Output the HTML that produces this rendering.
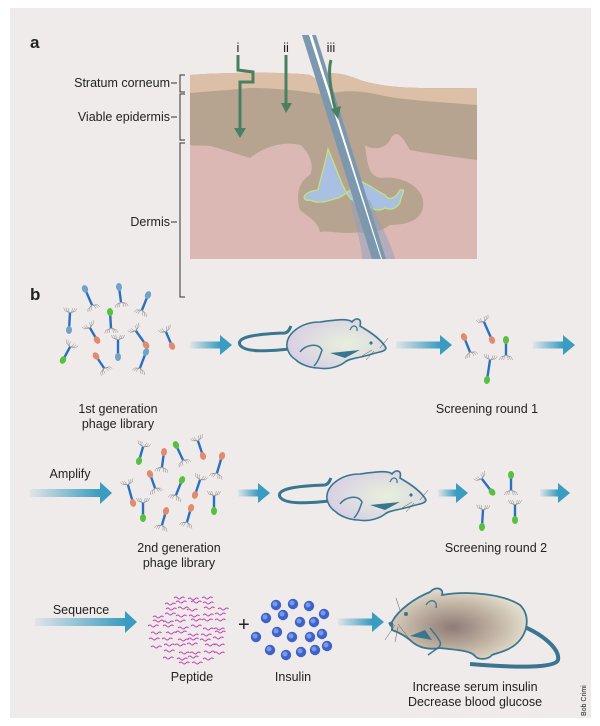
<!DOCTYPE html>
<html><head><meta charset="utf-8"><style>
html,body{margin:0;padding:0;background:#fff}
svg{display:block}
text{font-family:"Liberation Sans",sans-serif;fill:#222}
</style></head><body>
<svg id="s" width="600" height="726" viewBox="0 0 600 726" xmlns="http://www.w3.org/2000/svg">
<defs>
<linearGradient id="ag" x1="0" x2="1" y1="0" y2="0"><stop offset="0" stop-color="#3a9cc0" stop-opacity="0.08"/><stop offset="1" stop-color="#3a9cc0"/></linearGradient>
<radialGradient id="mg" cx="0.6" cy="0.5" r="0.6"><stop offset="0" stop-color="#e8f0dc"/><stop offset="1" stop-color="#d8d0e4"/></radialGradient>
<radialGradient id="rg" cx="0.45" cy="0.55" r="0.55"><stop offset="0" stop-color="#8f7a76"/><stop offset="0.6" stop-color="#c2b4a4"/><stop offset="1" stop-color="#e2dccb"/></radialGradient>
<g id="mouse">
<path d="M290,349 C270,351 245,353 240,345 C236,337 255,334 285,333 C289,332 290,328 291,326" fill="none" stroke="#3a7690" stroke-width="3"/>
<path d="M287,347 C285,335 300,322 320,322 C335,320 348,318 352,322 C356,317 362,318 360,326 C372,333 382,340 386,348 C385,352 378,352 372,354 C360,358 350,358 345,362 C340,366 330,370 318,368 C310,368 300,364 296,360 C290,356 288,352 287,347Z" fill="url(#mg)" stroke="#3a7690" stroke-width="1.6"/>
<path d="M300,352 C305,345 318,342 322,350 C320,356 318,362 314,366" fill="none" stroke="#3a7690" stroke-width="1.5"/>
<path d="M330,353 L345,358 L360,350" fill="#3a7690"/>
<circle cx="371" cy="343" r="1.6" fill="#3a7690"/>
<path d="M350,330 C352,324 358,325 357,331" fill="none" stroke="#3a7690" stroke-width="1.2"/>
<path d="M372,350 L362,356 M374,351 L366,360 M380,348 L388,338" stroke="#555" stroke-width="0.5"/>
</g>
</defs>
<rect x="0" y="0" width="600" height="726" fill="#fff"/>
<rect x="10" y="8" width="581" height="710" fill="#efebea"/>
<text x="30" y="48" font-size="17" font-weight="bold">a</text>
<text x="30" y="300" font-size="17" font-weight="bold">b</text>
<!-- skin -->
<path d="M190,75 C230,72 290,72 310,75 L318,80 C325,70 340,72 360,80 C390,90 430,88 477,88 L477,259 L190,259Z" fill="#dbb8b4"/>
<path d="M190,75 C230,72 290,72 310,75 L318,80 C325,70 340,72 360,80 C390,90 430,88 477,88 L477,160 C440,155 420,152 410,150 C400,132 395,130 390,140 C385,150 370,150 365,145 C368,170 370,175 380,178 C400,175 420,185 423,200 C425,215 415,225 390,225 C380,232 365,235 360,232 C340,235 330,230 320,232 C318,222 310,218 300,210 C295,195 300,180 310,175 C315,165 308,150 300,145 C280,140 260,150 250,158 C240,155 225,150 210,146 C200,145 195,146 190,145Z" fill="#b6a490"/>
<path d="M190,75 C230,72 290,72 310,75 L318,80 C325,70 340,72 360,80 C390,90 430,88 477,88 L477,105 C440,102 400,100 380,95 C360,90 340,90 325,95 C310,92 280,88 250,88 C230,90 200,92 190,93Z" fill="#dbbfa6"/>
<path d="M328,149 C325,165 320,180 318,190 C300,192 302,202 310,200 C320,205 330,200 338,198 C345,195 352,190 358,180 C370,185 375,190 385,195 C390,203 398,195 400,190 C408,188 400,196 400,203 C395,210 390,210 385,208 C378,212 372,210 368,204 C360,210 350,200 345,190 C340,180 335,165 328,149Z" fill="#a9c0e3" stroke="#c2e27a" stroke-width="1.3"/>
<path d="M350,200 C355,225 362,245 362,259 L395,259 C390,240 380,225 370,200Z" fill="#8ea0c0" opacity="0.5"/>
<path d="M305,35 L313,35 L384,259 L376,259Z" fill="#fff"/>
<path d="M302,35 L309,35 L381,259 L372,259Z" fill="#7c98ae"/>
<path d="M312,35 L316,35 L386,259 L382,259Z" fill="#7c98ae"/>
<g fill="none" stroke="#4a8060" stroke-width="3">
<path d="M238,55 L238,70 L253,72 L253,82 L240,82 L240,130"/>
<path d="M286,55 L286,105"/>
<path d="M331,60 C328,70 330,90 336,112"/>
</g>
<g fill="#4a8060"><path d="M234,128 L240,138 L246,128Z"/><path d="M281,103 L286,113 L292,103Z"/><path d="M331,109 L338,119 L341,106Z"/></g>
<g font-size="13" text-anchor="middle"><text x="238" y="52">i</text><text x="286" y="52">ii</text><text x="331" y="52">iii</text></g>
<g font-size="12.5" text-anchor="end">
<text x="170" y="87">Stratum corneum</text>
<text x="170" y="121">Viable epidermis</text>
<text x="170" y="226">Dermis</text></g>
<g fill="none" stroke="#333" stroke-width="1">
<path d="M171,83 L177,83 M185,75 L180,75 L180,92 L185,92"/>
<path d="M171,117 L177,117 M185,94 L180,94 L180,140 L185,140"/>
<path d="M171,222 L177,222 M185,143 L180,143 L180,297 L185,297"/>
</g>
<g id="arrows"></g>
<use href="#mouse"/>
<use href="#mouse" transform="translate(40,152)"/>
<!-- rat -->
<path d="M520,625 C545,635 560,650 558,660 C555,668 520,668 470,664" fill="none" stroke="#3a7690" stroke-width="4"/>
<path d="M392,622 C398,610 415,598 430,592 C436,586 444,588 442,595 C470,590 505,595 520,605 C530,615 528,630 520,640 C512,650 500,652 492,655 C488,660 478,660 475,656 C470,650 455,650 440,648 C428,650 418,648 410,640 C405,636 398,632 392,630Z" fill="url(#rg)" stroke="#3a7690" stroke-width="1.8"/>
<path d="M430,628 C440,640 445,645 435,650 L428,655" fill="none" stroke="#3a7690" stroke-width="1.5"/>
<path d="M410,636 L425,630 L432,640Z" fill="#3a7690"/>
<circle cx="406" cy="614" r="2" fill="#3a7690"/>
<path d="M426,605 C430,598 438,600 436,608" fill="none" stroke="#3a7690" stroke-width="1.3"/>
<path d="M390,622 L392,626" stroke="#3a7690" stroke-width="4"/>
<path d="M395,625 L385,640 M398,627 L395,642 M398,624 L410,640 M400,610 L396,598" stroke="#555" stroke-width="0.5"/>
<g id="phages"></g>
<g id="pep" stroke="#c040b0" stroke-width="0.9" fill="none"></g>
<text x="238" y="631" font-size="20">+</text>
<g id="ins"></g>
<g font-size="12.5" text-anchor="middle">
<text x="118" y="413">1st generation</text><text x="118" y="428">phage library</text>
<text x="487" y="413">Screening round 1</text>
<text x="70" y="478">Amplify</text>
<text x="179" y="552">2nd generation</text><text x="179" y="567">phage library</text>
<text x="496" y="552">Screening round 2</text>
<text x="81" y="614">Sequence</text>
<text x="192" y="681">Peptide</text>
<text x="293" y="681">Insulin</text>
<text x="475" y="691">Increase serum insulin</text>
<text x="475" y="706">Decrease blood glucose</text>
</g>
<text x="0" y="0" font-size="7" fill="#666" transform="translate(586,716) rotate(-90)">Bob Crimi</text>
</svg>
<script>
var NS="http://www.w3.org/2000/svg";
function el(p,t,a){var e=document.createElementNS(NS,t);for(var k in a)e.setAttribute(k,a[k]);p.appendChild(e);return e;}
var A=document.getElementById("arrows");
function arrow(x1,x2,y,h){var hw=h||7;var hx=x2-12;
el(A,"rect",{x:x1,y:y-hw/2,width:hx-x1,height:hw,fill:"url(#ag)"});
el(A,"path",{d:"M"+hx+","+(y-hw-3)+" L"+x2+","+y+" L"+hx+","+(y+hw+3)+"Z",fill:"#3a9cc0"});}
arrow(190,232,345);arrow(396,452,345);arrow(533,575,345);
arrow(30,112,493,8);arrow(238,270,493);arrow(438,468,493);arrow(540,570,493);
arrow(35,137,622,8);arrow(338,384,622);
var P=document.getElementById("phages");
var C={b:"#6fa3c8",g:"#58c040",c:"#e08a70"};
function ph(lx,ly,hx,hy,c){var g=el(P,"g",{});
var dx=hx-lx,dy=hy-ly,L=Math.sqrt(dx*dx+dy*dy),ux=dx/L,uy=dy/L,px=-uy,py=ux;
for(var i=-3;i<=3;i++){if(i==0)continue;var s=i*1.1;
el(g,"path",{d:"M"+lx+","+ly+" L"+(lx+px*s*1.6-ux*2)+","+(ly+py*s*1.6-uy*2)+" L"+(lx+px*s*2-ux*5)+","+(ly+py*s*2-uy*5),stroke:"#888","stroke-width":0.5,fill:"none"});}
el(g,"line",{x1:lx,y1:ly,x2:hx-ux*3,y2:hy-uy*3,stroke:"#2a70c0","stroke-width":2.4});
el(g,"ellipse",{cx:hx,cy:hy,rx:3,ry:4,fill:C[c],transform:"rotate("+(Math.atan2(dy,dx)*180/Math.PI-90)+" "+hx+" "+hy+")"});}
[[92,305,85,289,"b"],[121,302,119,287,"b"],[142,310,148,295,"b"],[70,313,69,330,"b"],[111,328,110,312,"g"],[90,328,97,340,"c"],[136,331,146,345,"c"],[166,332,172,346,"c"],[118,340,118,357,"b"],[70,347,63,360,"g"],[104,368,96,356,"c"],[140,368,146,352,"b"],
[470,352,464,337,"c"],[484,322,492,340,"c"],[506,355,506,340,"g"],[490,360,487,380,"g"],
[143,447,139,461,"g"],[162,467,164,452,"c"],[183,460,176,445,"g"],[198,441,203,456,"c"],[217,473,222,456,"c"],[155,488,150,474,"c"],[128,485,133,503,"c"],[176,495,182,480,"g"],[200,480,195,495,"c"],[214,496,214,511,"g"],[143,503,143,518,"g"],[162,525,166,511,"c"],[187,522,191,508,"c"],
[482,479,492,492,"g"],[511,490,511,475,"g"],[483,510,482,527,"g"],[515,505,515,520,"g"]].forEach(function(a){ph.apply(null,a);});
var G=document.getElementById("pep");var r=7;
for(var y=598;y<665;y+=6){for(var x=148;x<224;x+=13){var xx=x+((r=(r*37+11)%97)%6),yy=y+(r%4)-2;
if(Math.hypot((xx-186)/40,(yy-630)/36)>1)continue;
el(G,"path",{d:"M"+xx+","+yy+" q2,-2 3.5,0 t3.5,0 t3.5,0"});}}
var I=document.getElementById("ins");
[[276,605],[293,604],[309,606],[324,614],[266,618],[283,615],[300,622],[314,622],[256,637],[277,632],[292,637],[310,637],[322,634],[270,650],[286,655],[301,652],[315,650],[327,646]].forEach(function(p){
el(I,"circle",{cx:p[0],cy:p[1],r:5.2,fill:"#3f62c8"});el(I,"circle",{cx:p[0]-1,cy:p[1]-1,r:2.5,fill:"#7a98e8"});});
</script>
</body></html>
